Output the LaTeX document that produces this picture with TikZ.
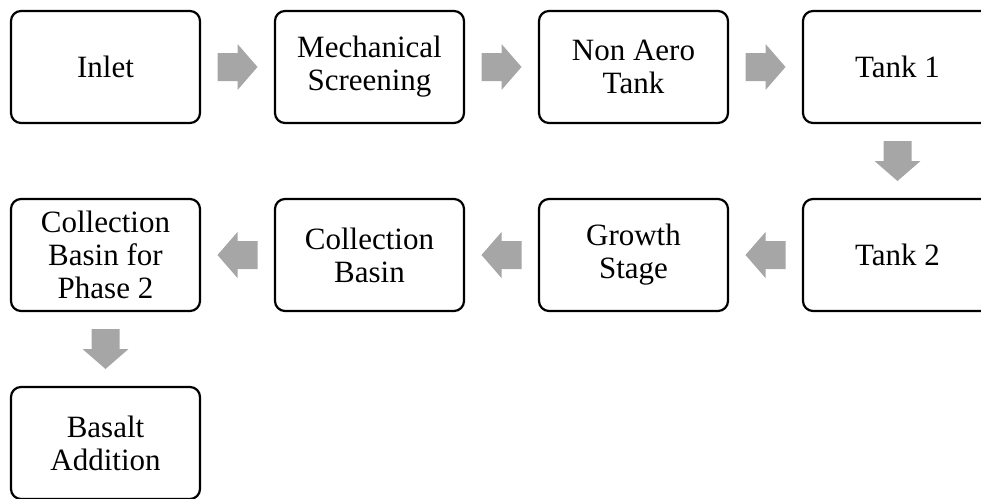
\documentclass[tikz,border=0pt]{standalone}
\usepackage{fontspec}
\setmainfont{Liberation Serif}
\definecolor{arrowgray}{RGB}{166,166,166}
\tikzset{
  stepbox/.style={draw=black, line width=2.2pt, rounded corners=10pt, fill=white,
    minimum width=189pt, minimum height=112pt, inner sep=2pt, align=center,
    font=\fontsize{31}{33}\selectfont},
  blockarrow/.pic={\fill[arrowgray] (-20,-14) -- (0,-14) -- (0,-23) -- (20,0) -- (0,23) -- (0,14) -- (-20,14) -- cycle;}
}
\begin{document}
\begin{tikzpicture}[x=1pt,y=1pt]
\useasboundingbox (0,0) rectangle (981,-498);
% row 1
\node[stepbox] (inlet) at (105.5,-67) {Inlet};
\node[stepbox] (mech) at (369.5,-67) {Mechanical\\Screening};
\node[stepbox] (nonaero) at (633.5,-67) {Non Aero\\Tank};
\node[stepbox] (tank1) at (897.5,-67) {Tank 1};
% row 2
\node[stepbox] (tank2) at (897.5,-255) {Tank 2};
\node[stepbox] (growth) at (633.5,-255) {Growth\\Stage};
\node[stepbox] (basin) at (369.5,-255) {Collection\\Basin};
\node[stepbox] (basin2) at (105.5,-255) {Collection\\Basin for\\Phase 2};
% row 3
\node[stepbox] (basalt) at (105.5,-443) {Basalt\\Addition};
% connectors
\path (inlet.east) -- (mech.west) coordinate[midway] (c1);
\path (mech.east) -- (nonaero.west) coordinate[midway] (c2);
\path (nonaero.east) -- (tank1.west) coordinate[midway] (c3);
\path (tank1.south) -- (tank2.north) coordinate[midway] (c4);
\path (tank2.west) -- (growth.east) coordinate[midway] (c5);
\path (growth.west) -- (basin.east) coordinate[midway] (c6);
\path (basin.west) -- (basin2.east) coordinate[midway] (c7);
\path (basin2.south) -- (basalt.north) coordinate[midway] (c8);
\pic at (c1) {blockarrow};
\pic at (c2) {blockarrow};
\pic at (c3) {blockarrow};
\pic[rotate=-90] at (c4) {blockarrow};
\pic[rotate=180] at (c5) {blockarrow};
\pic[rotate=180] at (c6) {blockarrow};
\pic[rotate=180] at (c7) {blockarrow};
\pic[rotate=-90] at (c8) {blockarrow};
\end{tikzpicture}
\end{document}
